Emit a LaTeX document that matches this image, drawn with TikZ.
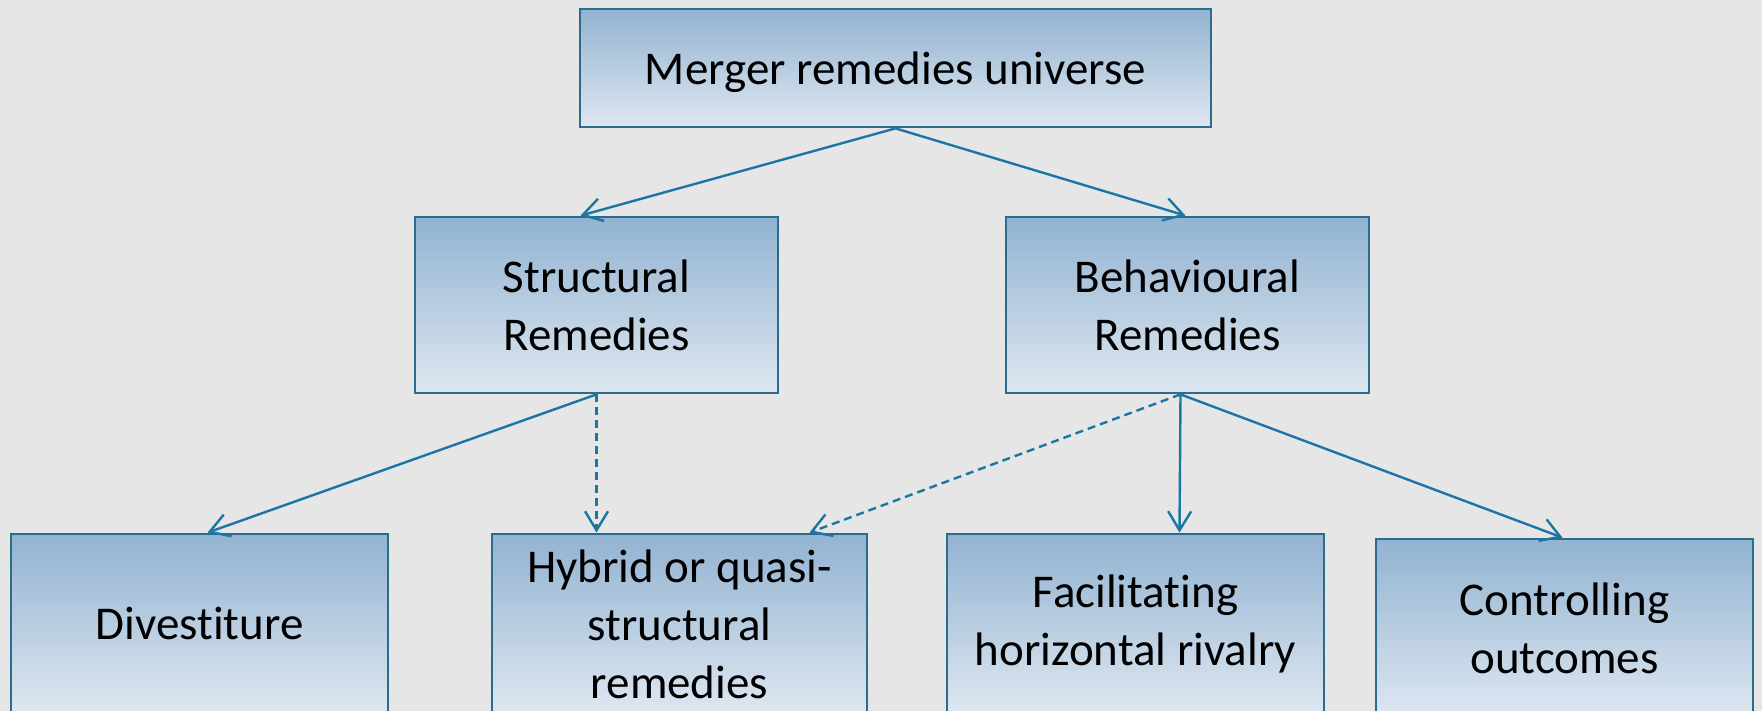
\documentclass[tikz,border=0pt]{standalone}
\usepackage{fontspec}
\setmainfont[Ligatures=NoCommon]{Carlito}
\usepackage{tikz}
\usetikzlibrary{positioning,arrows.meta}

\definecolor{backgr}{HTML}{E6E6E6}
\definecolor{boxtop}{HTML}{92B3D1}
\definecolor{boxbot}{HTML}{DEE7F1}
\definecolor{boxline}{HTML}{2B6C8C}
\definecolor{linkcol}{HTML}{1C76A3}

\tikzset{
  remedy/.style={draw=boxline, line width=2.8pt, top color=boxtop, bottom color=boxbot,
    align=center, inner sep=0pt, font=\fontsize{47}{58}\selectfont},
  link/.style={draw=linkcol, line width=2.4pt, -{Straight Barb[length=19pt,width=23pt,line width=2.4pt]}},
  dashlink/.style={link, dash pattern=on 8pt off 5pt}
}

\begin{document}
\begin{tikzpicture}[x=1pt,y=-1pt]
\useasboundingbox (0,0) rectangle (1762,711);
\clip (0,0) rectangle (1762,711);
\fill[backgr] (0,0) rectangle (1762,711);

% Top
\node[remedy, minimum width=631pt, minimum height=118pt, text depth=-6pt] (universe) at (895.5,68) {Merger remedies universe};

% Second row
\node[remedy, minimum width=363pt, minimum height=176pt] (structural) at (596.5,305) {Structural\\Remedies};
\node[remedy, minimum width=363pt, minimum height=176pt] (behavioural) at (1187.5,305) {Behavioural\\Remedies};

% Third row
\node[remedy, minimum width=377pt, minimum height=180pt] (divest) at (199.5,624) {Divestiture};
\node[remedy, minimum width=375pt, minimum height=180pt] (hybrid) at (679.5,624) {Hybrid or quasi-\\structural\\remedies};
\node[remedy, minimum width=377pt, minimum height=180pt] (facil) at (1135.5,624) {Facilitating\\horizontal rivalry};
\node[remedy, minimum width=377pt, minimum height=178pt] (control) at (1564.5,628) {Controlling\\outcomes};

% Links
\draw[link] (universe.south) -- ([xshift=-16pt]structural.north);
\draw[link] (universe.south) -- ([xshift=-2pt]behavioural.north);

\draw[link] (structural.south) -- ([xshift=8pt]divest.north);
\draw[dashlink] (structural.south) -- ([xshift=-83pt]hybrid.north);

\draw[dashlink] ([xshift=-7pt]behavioural.south) -- ([xshift=130pt]hybrid.north);
\draw[link] ([xshift=-7pt]behavioural.south) -- ([xshift=44pt]facil.north);
\draw[link] ([xshift=-7pt]behavioural.south) -- ([xshift=-2pt]control.north);
\end{tikzpicture}
\end{document}
